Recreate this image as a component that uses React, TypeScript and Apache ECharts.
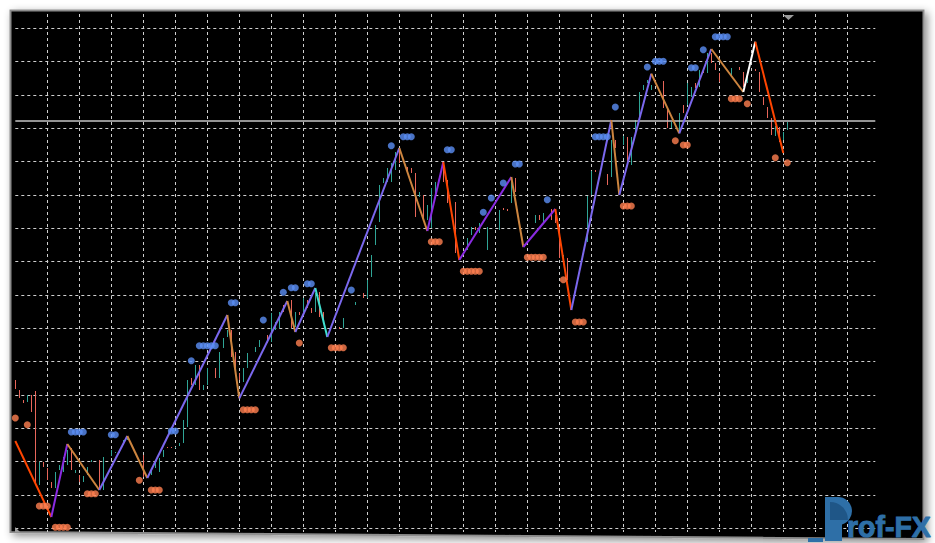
import React, { useEffect, useRef } from "react";
import * as echarts from "echarts";

// ---------------- data (x = bar number, y = price units) ----------------
const barIndex = [
  0, 1, 2, 3, 4, 5, 6, 7, 8, 9,
  10, 11, 12, 13, 14, 15, 16, 17, 18, 19,
  21, 22, 24, 25, 26, 27, 28, 32, 34, 35,
  36, 37, 38, 39, 40, 41, 42, 43, 44, 45,
  46, 47, 48, 50, 51, 52, 53, 54, 55, 56,
  57, 58, 60, 61, 63, 64, 65, 66, 67, 69,
  70, 71, 72, 73, 74, 75, 76, 77, 81, 82,
  85, 87, 88, 89, 90, 91, 92, 93, 94, 95,
  96, 98, 99, 100, 101, 102, 103, 104, 105, 107,
  108, 110, 113, 114, 115, 116, 118, 121, 122, 123,
  124, 125, 130, 131, 132, 134, 135, 136, 137, 138,
  143, 144, 145, 148, 149, 150, 152, 153, 154, 155,
  156, 157, 158, 159, 162, 163, 164, 166, 167, 168,
  169, 170, 171, 172, 173, 174, 175, 176, 179, 181,
  182, 183, 185, 186, 187, 188, 189, 190, 191, 192,
  193,
];
const barHigh = [
  44.5, 41.5, 38.5, 40.0, 40.0, 41.2, 20.0, 20.0, 18.1, 14.0,
  17.0, 19.0, 21.5, 23.5, 24.0, 17.5, 16.0, 15.7, 18.5, 20.5,
  20.5, 21.5, 23.5, 23.0, 23.5, 26.5, 27.2, 22.0, 17.5, 20.0,
  21.0, 23.5, 24.3, 24.3, 24.3, 25.5, 32.5, 44.5, 45.0, 49.0,
  49.0, 43.0, 48.1, 48.1, 53.0, 57.1, 59.5, 59.5, 53.0, 46.6,
  48.0, 52.5, 54.5, 56.5, 58.0, 64.5, 62.0, 65.0, 67.0, 68.5,
  65.0, 65.0, 69.0, 68.5, 66.1, 70.5, 71.0, 65.0, 60.4, 63.0,
  68.0, 70.5, 74.5, 82.0, 91.0, 103.0, 105.0, 108.0, 109.5, 113.0,
  113.5, 108.5, 108.0, 106.5, 101.0, 100.0, 97.0, 102.0, 104.0, 110.0,
  104.5, 98.0, 87.0, 90.5, 90.4, 91.5, 90.5, 95.5, 96.1, 95.8,
  104.5, 105.0, 94.0, 94.0, 94.5, 95.7, 94.0, 90.5, 82.0, 81.0,
  99.7, 107.3, 107.5, 106.3, 116.5, 116.5, 117.7, 117.5, 117.5, 122.5,
  131.0, 133.0, 134.5, 133.0, 134.2, 126.0, 122.0, 124.5, 127.0, 133.5,
  132.5, 133.5, 137.5, 138.0, 142.5, 142.5, 139.5, 136.5, 138.0, 138.5,
  137.0, 137.0, 137.8, 137.0, 129.5, 126.5, 123.0, 120.7, 120.5, 119.0,
  122.0,
];
const barLow = [
  41.8, 39.1, 37.6, 37.9, 34.9, 13.0, 13.0, 18.5, 14.5, 12.1,
  12.0, 17.5, 17.0, 19.0, 17.5, 16.6, 14.0, 14.0, 16.0, 19.9,
  11.5, 11.5, 21.7, 22.5, 22.6, 25.0, 26.5, 15.5, 16.0, 18.0,
  17.0, 21.5, 24.0, 24.0, 24.0, 24.7, 25.5, 30.5, 43.0, 43.0,
  41.5, 41.5, 43.0, 45.1, 45.1, 54.1, 57.4, 51.5, 46.5, 44.5,
  44.0, 48.0, 53.0, 54.5, 55.6, 56.0, 59.5, 60.0, 65.0, 60.0,
  60.5, 64.0, 65.0, 66.0, 64.6, 65.0, 63.5, 62.5, 59.9, 60.0,
  67.0, 69.0, 69.0, 75.5, 85.0, 92.0, 103.5, 104.0, 104.0, 107.5,
  109.5, 107.0, 106.5, 93.5, 99.5, 93.0, 92.5, 90.0, 99.0, 104.0,
  97.5, 82.5, 83.5, 88.0, 89.5, 88.5, 83.5, 89.5, 95.5, 95.2,
  97.5, 101.0, 91.5, 92.5, 91.5, 92.5, 91.6, 81.0, 80.5, 74.5,
  86.0, 100.0, 107.0, 103.0, 105.5, 114.0, 115.0, 109.0, 109.0, 118.0,
  123.5, 131.5, 133.5, 131.5, 126.0, 120.0, 120.0, 118.5, 124.5, 127.0,
  129.5, 132.0, 132.5, 136.5, 136.5, 139.5, 137.5, 134.0, 135.5, 137.5,
  132.5, 133.5, 137.2, 131.0, 127.0, 123.0, 118.0, 117.7, 116.0, 116.5,
  119.5,
];
// 1 = rising bar, 0 = falling bar
const barRising = [
  0, 0, 0, 1, 0, 0, 1, 0, 0, 0,
  1, 1, 1, 1, 0, 1, 0, 1, 1, 1,
  0, 1, 1, 1, 1, 1, 1, 0, 1, 1,
  1, 1, 0, 0, 1, 1, 1, 1, 0, 1,
  0, 1, 1, 0, 1, 1, 1, 0, 0, 0,
  1, 1, 1, 1, 0, 1, 1, 1, 0, 0,
  1, 0, 1, 0, 0, 1, 0, 0, 0, 1,
  1, 0, 1, 1, 1, 1, 1, 1, 1, 1,
  0, 0, 0, 0, 1, 0, 1, 1, 1, 0,
  0, 0, 1, 1, 0, 1, 1, 1, 0, 0,
  1, 0, 1, 0, 1, 0, 0, 0, 1, 0,
  1, 1, 0, 0, 1, 0, 1, 0, 1, 1,
  1, 1, 1, 1, 0, 0, 1, 1, 0, 1,
  1, 0, 1, 0, 1, 0, 0, 0, 1, 0,
  0, 1, 0, 0, 0, 0, 0, 1, 0, 1,
  1,
];

// ZigZag pivots
const zigzagIndex = [0, 9, 13, 21, 28, 33, 53, 56, 68, 70, 75, 78, 96, 103, 107, 111, 124, 127, 135, 139, 149, 151, 159, 166, 174, 182, 185, 192];
const zigzagPrice = [26.2, 3.4, 25.3, 11.5, 27.7, 15.1, 64.0, 39.0, 68.2, 58.9, 72.1, 57.4, 114.1, 89.2, 109.9, 80.5, 105.4, 84.4, 95.8, 65.5, 122.5, 100.0, 136.4, 118.5, 143.8, 130.9, 146.0, 112.6];
// leg kind per segment
const zigzagLegKind = [
  "strongDown", "strongUp", "down", "up", "down", "up", "down", "up", "down", "up",
  "flatDown", "up", "down", "strongUp", "strongDown", "strongUp", "down", "strongUp", "strongDown", "up",
  "down", "up", "down", "up", "down", "lastUp", "strongDown",
];

// fractal-like markers
const highMarkIndex = [14, 15, 16, 17, 24, 25, 39, 40, 44, 46, 47, 48, 49, 50, 54, 55, 62, 67, 69, 70, 73, 74, 84, 94, 97, 98, 99, 108, 109, 117, 119, 122, 125, 126, 133, 145, 146, 147, 148, 150, 158, 160, 161, 162, 169, 170, 172, 175, 176, 177, 178];
const highMarkPrice = [28.9, 28.9, 28.9, 28.9, 28.1, 28.1, 29.2, 29.2, 50.3, 54.8, 54.8, 54.8, 54.8, 54.8, 67.7, 67.7, 62.5, 70.8, 72.2, 72.2, 73.4, 73.4, 71.5, 114.8, 117.5, 117.5, 117.5, 113.6, 113.6, 94.8, 99.1, 103.6, 109.3, 109.3, 98.6, 117.5, 117.5, 117.5, 117.5, 126.4, 138.4, 140.1, 140.1, 140.1, 138.2, 138.2, 143.6, 147.5, 147.5, 147.5, 147.5];
const lowMarkIndex = [0, 3, 6, 7, 8, 10, 11, 12, 13, 18, 19, 20, 31, 34, 35, 36, 57, 58, 59, 60, 71, 79, 80, 81, 82, 104, 105, 106, 112, 113, 114, 115, 116, 128, 129, 130, 131, 132, 137, 140, 141, 142, 152, 153, 154, 165, 167, 168, 179, 180, 181, 183, 190, 193];
const lowMarkPrice = [33.1, 31.1, 6.7, 6.7, 6.7, 0.3, 0.3, 0.3, 0.3, 10.35, 10.35, 10.35, 14.4, 11.5, 11.5, 11.5, 35.6, 35.6, 35.6, 35.6, 55.6, 54.2, 54.2, 54.2, 54.2, 86.0, 86.0, 86.0, 77.1, 77.1, 77.1, 77.1, 77.1, 81.3, 81.3, 81.3, 81.3, 81.3, 74.6, 61.9, 61.9, 61.9, 96.7, 96.7, 96.7, 116.3, 115.0, 115.0, 128.9, 128.9, 128.9, 127.4, 111.2, 109.7];

const lastPrice = 122.2;
const axisBars = 215;

// ---------------- styles ----------------
const TEAL = "#2fa596";
const SALMON = "#e8665a";
const GRID = "#cfcfcf";
const LOGO = "#2e6fa7";
const legColors: Record<string, string> = {
  strongDown: "#ff4500",
  strongUp: "#8a2be2",
  up: "#7b68ee",
  down: "#cd853f",
  flatDown: "#40e0d0",
  lastUp: "#ffffff",
};

// logo "P" outline (stem + round bowl)
echarts.graphic.registerShape(
  "logo",
  echarts.graphic.extendPath("M0 0 H13 A14 14 0 0 1 17 27.4 V44 H0 Z", {})
);

export default function App() {
  const ref = useRef<HTMLDivElement>(null);

  useEffect(() => {
    if (!ref.current) return;
    const chart = echarts.init(ref.current, null, { renderer: "svg" });

    const barData = barIndex.map((i, k) => [i, barLow[k], barHigh[k], barRising[k]]);
    const legData = zigzagLegKind.map((kind, k) => [
      zigzagIndex[k], zigzagPrice[k], zigzagIndex[k + 1], zigzagPrice[k + 1], k,
    ]);

    const option: any = {
      animation: false,
      backgroundColor: "transparent",
      textStyle: { fontFamily: "Liberation Sans" },
      grid: [
        { left: 15.3, top: 14, width: 860, height: 518, containLabel: false },
        { left: 15.3, top: 28.333, width: 860, height: 500, containLabel: false },
      ],
      xAxis: [
        {
          gridIndex: 0, type: "value", min: 0, max: axisBars, interval: 8,
          axisLine: { show: false }, axisTick: { show: false }, axisLabel: { show: false },
          splitLine: {
            show: true, showMinLine: false, showMaxLine: false,
            lineStyle: { color: GRID, width: 1, type: [3, 3] },
          },
        },
        { gridIndex: 1, type: "value", min: 0, max: axisBars, show: false, splitLine: { show: false } },
      ],
      yAxis: [
        { gridIndex: 0, type: "value", min: 0, max: 1, show: false, splitLine: { show: false } },
        {
          gridIndex: 1, type: "value", min: 0, max: 150, interval: 10,
          axisLine: { show: false }, axisTick: { show: false }, axisLabel: { show: false },
          splitLine: { show: true, lineStyle: { color: GRID, width: 1, type: [3, 3] } },
        },
      ],
      series: [
        {
          type: "custom",
          xAxisIndex: 1, yAxisIndex: 1,
          data: barData,
          z: 3,
          renderItem: (params: any, api: any) => {
            const i = api.value(0);
            const a = api.coord([i, api.value(2)]);
            const b = api.coord([i, api.value(1)]);
            const x = Math.round(a[0]) + 0.5;
            const y1 = Math.round(a[1]);
            let y2 = Math.round(b[1]);
            if (y2 - y1 < 1) y2 = y1 + 1;
            return {
              type: "line",
              shape: { x1: x, y1, x2: x, y2 },
              style: { stroke: api.value(3) ? TEAL : SALMON, lineWidth: 1 },
            };
          },
        },
        {
          type: "line",
          xAxisIndex: 1, yAxisIndex: 1,
          data: [[0, lastPrice], [axisBars, lastPrice]],
          symbol: "none",
          lineStyle: { color: "#c4c4c4", width: 1.3 },
          z: 4,
          silent: true,
        },
        {
          type: "custom",
          xAxisIndex: 1, yAxisIndex: 1,
          data: legData,
          z: 5,
          renderItem: (params: any, api: any) => {
            const a = api.coord([api.value(0), api.value(1)]);
            const b = api.coord([api.value(2), api.value(3)]);
            const kind = zigzagLegKind[api.value(4)];
            return {
              type: "line",
              shape: { x1: a[0], y1: a[1], x2: b[0], y2: b[1] },
              style: { stroke: legColors[kind], lineWidth: 2 },
            };
          },
        },
        {
          type: "scatter",
          xAxisIndex: 1, yAxisIndex: 1,
          data: highMarkIndex.map((i, k) => [i, highMarkPrice[k]]),
          symbol: "circle", symbolSize: 7,
          itemStyle: { color: "#5b8ff5" },
          clip: false, z: 6,
        },
        {
          type: "scatter",
          xAxisIndex: 1, yAxisIndex: 1,
          data: lowMarkIndex.map((i, k) => [i, lowMarkPrice[k]]),
          symbol: "circle", symbolSize: 7,
          itemStyle: { color: "#ff7f50" },
          clip: false, z: 6,
        },
      ],
      graphic: [
        {
          type: "polygon", z: -1, silent: true,
          shape: { points: [[10.5, 10.5], [923.5, 10.5], [923.5, 539], [10.5, 532]] },
          style: {
            fill: "#000", stroke: "#8d8d8d", lineWidth: 2,
            shadowBlur: 8, shadowOffsetX: 3, shadowOffsetY: 3, shadowColor: "rgba(0,0,0,0.45)",
          },
        },
        {
          type: "polygon", z: 50, silent: true,
          shape: { points: [[783, 15], [794, 15], [788.5, 20]] },
          style: { fill: "#9a9a9a" },
        },
        {
          type: "polygon", z: 50, silent: true,
          shape: { points: [[15, 527], [15, 532], [20, 532]] },
          style: { fill: "#9a9a9a" },
        },
        {
          type: "logo", z: 60, x: 825, y: 497, silent: true,
          style: { fill: LOGO },
        },
        {
          type: "sector", z: 61, silent: true,
          shape: { cx: 830, cy: 520, r: 18, r0: 0, startAngle: -Math.PI / 2, endAngle: 0 },
          style: { fill: "#1f5687" },
        },
        {
          type: "text", z: 60, x: 847, y: 527, scaleX: 0.95, silent: true,
          style: {
            text: "rof-FX", font: 'bold 30px "Liberation Sans", Arial, sans-serif',
            fill: LOGO, stroke: LOGO, lineWidth: 1,
            verticalAlign: "middle", align: "left",
          },
        },
        {
          type: "rect", z: 60, silent: true,
          shape: { x: 808, y: 538, width: 15, height: 4 },
          style: { fill: LOGO },
        },
      ],
    };

    chart.setOption(option);
    return () => chart.dispose();
  }, []);

  return (
    <div
      ref={ref}
      style={{ position: "absolute", left: 0, top: 0, width: 935, height: 543, background: "#fff" }}
    />
  );
}
